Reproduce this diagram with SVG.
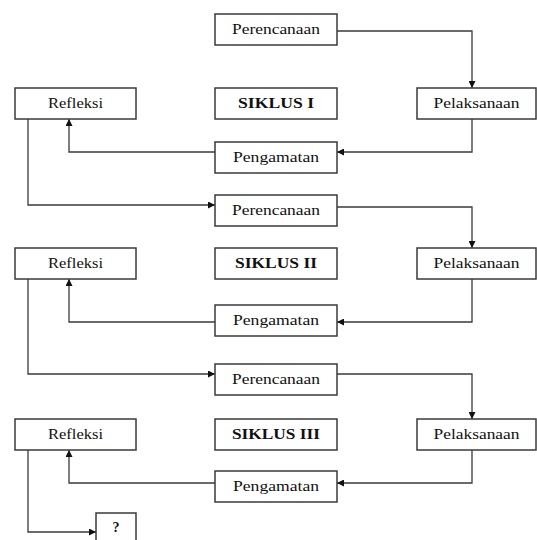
<svg xmlns="http://www.w3.org/2000/svg" width="537" height="540" viewBox="0 0 537 540">
<style>
.box{fill:#fff;stroke:#3a3a3a;stroke-width:1.5}
.t{font-family:"Liberation Serif","Times New Roman",serif;font-size:14px;fill:#111;text-anchor:middle}
.b{font-weight:bold}
.c{fill:none;stroke:#3a3a3a;stroke-width:1.3;marker-end:url(#ah)}
</style>
<defs>
<marker id="ah" viewBox="0 0 10 10" refX="10" refY="5" markerWidth="8" markerHeight="7" markerUnits="userSpaceOnUse" orient="auto">
<path d="M0,0 L10,5 L0,10 z" fill="#111"/>
</marker>
</defs>
<rect width="537" height="540" fill="#fff"/>
<g id="connectors">
<path class="c" d="M337,31 H472 V88"/>
<path class="c" d="M472,119 V152 H337"/>
<path class="c" d="M215,152 H69 V119"/>
<path class="c" d="M28,119 V205 H215"/>
<path class="c" d="M337,207 H472 V248"/>
<path class="c" d="M472,279 V322 H337"/>
<path class="c" d="M215,322 H69 V279"/>
<path class="c" d="M28,279 V374 H215"/>
<path class="c" d="M337,374 H472 V419"/>
<path class="c" d="M472,450 V483 H337"/>
<path class="c" d="M215,483 H69 V450"/>
<path class="c" d="M28,450 V532 H96"/>
</g>
<g id="perencanaan1"><rect class="box" x="215" y="14" width="122" height="31"/><text class="t" x="276" y="33.5" textLength="88" lengthAdjust="spacingAndGlyphs">Perencanaan</text></g>
<g id="refleksi1"><rect class="box" x="15" y="88" width="121" height="31"/><text class="t" x="75.5" y="107.5" textLength="55" lengthAdjust="spacingAndGlyphs">Refleksi</text></g>
<g id="siklus1"><rect class="box" x="215" y="88" width="122" height="31"/><text class="t b" x="276" y="107.5" textLength="76" lengthAdjust="spacingAndGlyphs">SIKLUS I</text></g>
<g id="pelaksanaan1"><rect class="box" x="417" y="88" width="119" height="31"/><text class="t" x="476.5" y="107.5" textLength="86" lengthAdjust="spacingAndGlyphs">Pelaksanaan</text></g>
<g id="pengamatan1"><rect class="box" x="215" y="142" width="122" height="31"/><text class="t" x="276" y="161.5" textLength="86" lengthAdjust="spacingAndGlyphs">Pengamatan</text></g>

<g id="perencanaan2"><rect class="box" x="215" y="195" width="122" height="31"/><text class="t" x="276" y="214.5" textLength="88" lengthAdjust="spacingAndGlyphs">Perencanaan</text></g>
<g id="refleksi2"><rect class="box" x="15" y="248" width="121" height="31"/><text class="t" x="75.5" y="267.5" textLength="55" lengthAdjust="spacingAndGlyphs">Refleksi</text></g>
<g id="siklus2"><rect class="box" x="215" y="248" width="122" height="31"/><text class="t b" x="276" y="267.5" textLength="82" lengthAdjust="spacingAndGlyphs">SIKLUS II</text></g>
<g id="pelaksanaan2"><rect class="box" x="417" y="248" width="119" height="31"/><text class="t" x="476.5" y="267.5" textLength="86" lengthAdjust="spacingAndGlyphs">Pelaksanaan</text></g>
<g id="pengamatan2"><rect class="box" x="215" y="305" width="122" height="31"/><text class="t" x="276" y="324.5" textLength="86" lengthAdjust="spacingAndGlyphs">Pengamatan</text></g>

<g id="perencanaan3"><rect class="box" x="215" y="364" width="122" height="31"/><text class="t" x="276" y="383.5" textLength="88" lengthAdjust="spacingAndGlyphs">Perencanaan</text></g>
<g id="refleksi3"><rect class="box" x="15" y="419" width="121" height="31"/><text class="t" x="75.5" y="438.5" textLength="55" lengthAdjust="spacingAndGlyphs">Refleksi</text></g>
<g id="siklus3"><rect class="box" x="215" y="419" width="122" height="31"/><text class="t b" x="276" y="438.5" textLength="88" lengthAdjust="spacingAndGlyphs">SIKLUS III</text></g>
<g id="pelaksanaan3"><rect class="box" x="417" y="419" width="119" height="31"/><text class="t" x="476.5" y="438.5" textLength="86" lengthAdjust="spacingAndGlyphs">Pelaksanaan</text></g>
<g id="pengamatan3"><rect class="box" x="215" y="471" width="122" height="31"/><text class="t" x="276" y="490.5" textLength="86" lengthAdjust="spacingAndGlyphs">Pengamatan</text></g>

<g id="question"><rect class="box" x="96" y="513" width="40" height="40"/><text class="t b" x="116" y="531.5">?</text></g>
</svg>
